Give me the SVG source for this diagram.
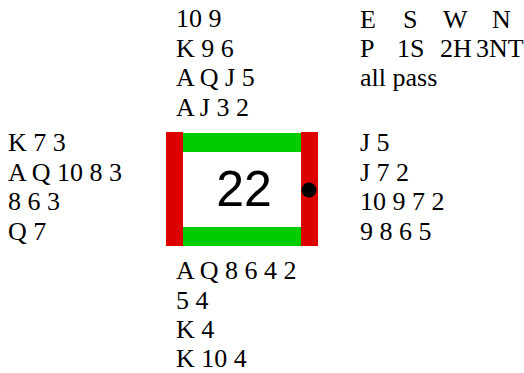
<svg xmlns="http://www.w3.org/2000/svg" width="524" height="373" viewBox="0 0 524 373">
<style>
.t{font-family:'Liberation Serif','Times New Roman',serif;font-size:26px;fill:#000}
.red{fill:#DD0000}
.green{fill:#00CC00}
</style>
<rect width="524" height="373" fill="#fff"/>
<g id="north" class="t">
<text x="176" y="27">10 9</text>
<text x="176" y="56.5">K 9 6</text>
<text x="176" y="86">A Q J 5</text>
<text x="176" y="115.5">A J 3 2</text>
</g>
<g id="bidding" class="t">
<text x="360" y="27.5">E</text>
<text x="403" y="27.5">S</text>
<text x="443" y="27.5">W</text>
<text x="492" y="27.5">N</text>
<text x="360" y="57">P</text>
<text x="397" y="57">1S</text>
<text x="440" y="57">2H</text>
<text x="476" y="57">3NT</text>
<text x="360" y="86">all pass</text>
</g>
<g id="west" class="t">
<text x="8" y="151">K 7 3</text>
<text x="8" y="180.5">A Q 10 8 3</text>
<text x="8" y="210">8 6 3</text>
<text x="8" y="239.5">Q 7</text>
</g>
<g id="east" class="t">
<text x="360" y="151">J 5</text>
<text x="360" y="180.5">J 7 2</text>
<text x="360" y="210">10 9 7 2</text>
<text x="360" y="239.5">9 8 6 5</text>
</g>
<g id="table">
<rect class="green" x="183" y="133" width="118" height="19"/>
<rect class="green" x="183" y="227" width="118" height="19"/>
<rect class="red" x="166" y="132" width="17" height="114"/>
<rect class="red" x="301" y="132" width="17" height="114"/>
<circle cx="309" cy="190" r="7.5" fill="#000"/>
<text x="244" y="206" text-anchor="middle" font-family="'Liberation Sans', Arial, sans-serif" font-size="50" fill="#000">22</text>
</g>
<g id="south" class="t">
<text x="176" y="279">A Q 8 6 4 2</text>
<text x="176" y="308.5">5 4</text>
<text x="176" y="338">K 4</text>
<text x="176" y="367">K 10 4</text>
</g>
</svg>
